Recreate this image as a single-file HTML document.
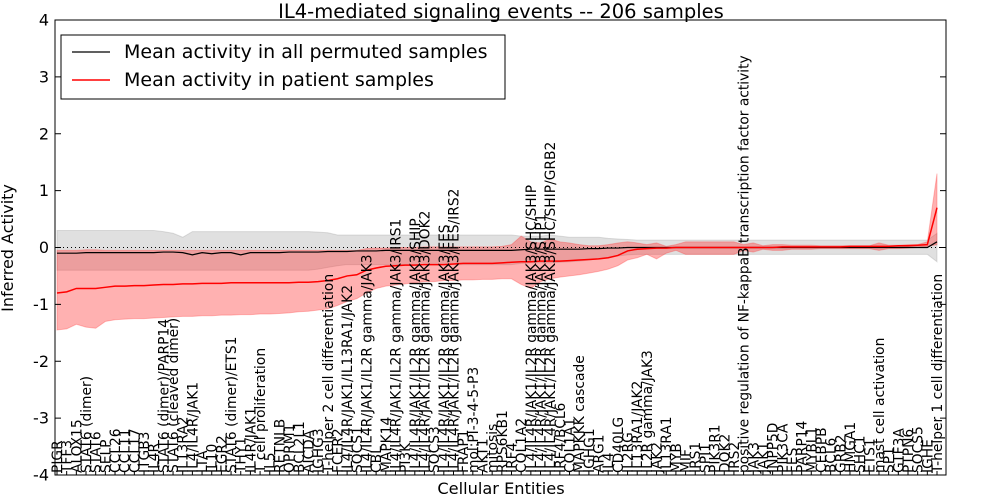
<!DOCTYPE html>
<html><head><meta charset="utf-8"><style>
html,body{margin:0;padding:0;background:#fff}
svg{display:block;font-family:"DejaVu Sans","Liberation Sans",sans-serif}
</style></head><body>
<svg id="chart" width="1000" height="500" viewBox="0 0 1000 500" xmlns="http://www.w3.org/2000/svg">
<text x="501" y="18" text-anchor="middle" font-size="19.5">IL4-mediated signaling events -- 206 samples</text>
<text transform="translate(13,248) rotate(-90)" text-anchor="middle" font-size="16">Inferred Activity</text>
<text x="501" y="494" text-anchor="middle" font-size="16.2">Cellular Entities</text>
<g id="plot"></g>
</svg>
<script>
const categories=["PIGR","TFF3","ALOX15","STAT6 (dimer)","STAT6","SELP","CCL26","CCL11","CCL17","ITGB3","IL4R","STAT6 (dimer)/PARP14","STAT6 (cleaved dimer)","IL13RA2","IL4/IL4R/JAK1","LTA","IL10","EGR2","STAT6 (dimer)/ETS1","THY1","IL4R/JAK1","T cell proliferation","IL5","RETNLB","OPRM1","BCL2L1","AICDA","IGHG3","T-helper 2 cell differentiation","FCER2","IL4/IL4R/JAK1/IL13RA1/JAK2","SOCS1","IL4/IL4R/JAK1/IL2R gamma/JAK3","CBL","MAPK14","IL4/IL4R/JAK1/IL2R gamma/JAK3/IRS1","PI3K","IL4/IL4R/JAK1/IL2R gamma/JAK3/SHIP","IL4/IL4R/JAK1/IL2R gamma/JAK3/DOK2","SOCS3","IL4/IL4R/JAK1/IL2R gamma/JAK3/FES","IL4/IL4R/JAK1/IL2R gamma/JAK3/FES/IRS2","FRAP1","mol:PI-3-4-5-P3","AKT1","mitosis","RPS6KB1","IRF4","COL1A2","IL4/IL4R/JAK1/IL2R gamma/JAK3/SHC/SHIP","IL4/IL4R/JAK1/IL2R gamma/JAK3/SHP1","IL4/IL4R/JAK1/IL2R gamma/JAK3/SHC/SHIP/GRB2","IRF4/BCL6","COL1A1","MAPKKK cascade","IGHG1","ARG1","IL4","CD40LG","IL2RG","IL13RA1/JAK2","IL2R gamma/JAK3","JAK2","IL13RA1","MYB","MIF","IRS1","SPI1","PIK3R1","DOK2","IRS2","positive regulation of NF-kappaB transcription factor activity","JAK3","JAK1","INPP5D","PIK3CA","FES","PARP14","MYBL1","CEBPB","BCL6","GRB2","HMGA1","SHC1","ETS1","mast cell activation","SP1","GTF3A","PTPN6","SOCS5","IGHE","T-helper 1 cell differentiation"];
const patientMean=[-0.80,-0.78,-0.72,-0.72,-0.72,-0.70,-0.68,-0.68,-0.67,-0.67,
-0.66,-0.65,-0.65,-0.64,-0.64,-0.63,-0.63,-0.63,-0.62,-0.62,
-0.62,-0.62,-0.62,-0.62,-0.62,-0.61,-0.61,-0.60,-0.58,-0.55,
-0.50,-0.48,-0.40,-0.36,-0.33,-0.32,-0.31,-0.31,-0.30,-0.30,
-0.30,-0.29,-0.28,-0.28,-0.28,-0.28,-0.27,-0.26,-0.25,-0.25,
-0.24,-0.24,-0.24,-0.23,-0.22,-0.21,-0.20,-0.18,-0.14,-0.06,
-0.03,-0.02,-0.01,-0.01,0,0,0,0,0,0,
0,0,0,0,0,0.01,0.01,0.01,0.01,0.01,
0.01,0.01,0.02,0.02,0.02,0.02,0.02,0.03,0.03,0.04,
0.05,0.70];
const patientLow=[-1.45,-1.43,-1.35,-1.40,-1.42,-1.30,-1.27,-1.26,-1.25,-1.25,
-1.24,-1.23,-1.22,-1.21,-1.21,-1.20,-1.20,-1.19,-1.19,-1.18,
-1.18,-1.17,-1.17,-1.16,-1.15,-1.13,-1.12,-1.10,-1.08,-1.02,
-0.95,-0.90,-0.80,-0.72,-0.68,-0.66,-0.64,-0.62,-0.60,-0.60,
-0.58,-0.58,-0.57,-0.57,-0.56,-0.56,-0.55,-0.55,-0.65,-0.72,
-0.60,-0.55,-0.52,-0.50,-0.48,-0.45,-0.42,-0.38,-0.32,-0.22,
-0.18,-0.12,-0.20,-0.10,-0.05,-0.12,-0.12,-0.12,-0.12,-0.12,
-0.12,-0.05,-0.08,-0.03,-0.05,-0.05,-0.03,-0.03,-0.03,-0.02,
-0.02,-0.02,-0.02,-0.02,-0.02,-0.05,-0.02,-0.02,-0.01,0,
0.02,0.05];
const patientHigh=[-0.05,-0.05,-0.05,-0.04,-0.04,-0.05,-0.05,-0.05,-0.05,-0.05,
-0.05,-0.05,-0.05,-0.05,-0.05,-0.05,-0.05,-0.05,-0.05,-0.05,
-0.05,-0.05,-0.05,-0.05,-0.05,-0.05,-0.05,-0.05,-0.05,-0.05,
-0.05,-0.05,-0.02,-0.01,-0.01,0,0,0,0.01,0.01,
0.01,0.01,0.01,0.01,0.01,0.01,0.02,0.05,0.20,0.10,
0.08,0.15,0.10,0.08,0.05,0.03,0.03,0.05,0.08,0.10,
0.08,0.05,0.08,0.02,0.05,0.10,0.10,0.10,0.10,0.10,
0.10,0.05,0.08,0.03,0.05,0.05,0.04,0.04,0.04,0.03,
0.03,0.03,0.03,0.03,0.03,0.08,0.04,0.04,0.05,0.05,
0.10,1.30];
const permMean=[-0.10,-0.10,-0.10,-0.09,-0.09,-0.09,-0.09,-0.09,-0.09,-0.09,
-0.09,-0.08,-0.08,-0.09,-0.13,-0.09,-0.11,-0.09,-0.09,-0.13,
-0.09,-0.09,-0.09,-0.09,-0.08,-0.08,-0.08,-0.08,-0.07,-0.07,
-0.07,-0.06,-0.06,-0.06,-0.05,-0.05,-0.05,-0.05,-0.05,-0.05,
-0.05,-0.05,-0.05,-0.05,-0.05,-0.05,-0.05,-0.05,-0.04,-0.03,
-0.03,-0.03,-0.03,-0.03,-0.03,-0.02,-0.02,-0.01,-0.01,0,
0,0,0,0,0,0,0,0,0,0,
0,0,0,0,0,0,0,0,0,0,
0,0,0,0,0,0,0,0,0,0,
0,0.10];
const permHigh=[0.30,0.30,0.30,0.30,0.30,0.30,0.30,0.30,0.30,0.30,
0.30,0.28,0.25,0.18,0.28,0.28,0.28,0.28,0.28,0.28,
0.28,0.28,0.28,0.28,0.28,0.28,0.28,0.27,0.26,0.22,
0.22,0.22,0.22,0.22,0.22,0.22,0.22,0.22,0.22,0.22,
0.22,0.22,0.22,0.22,0.22,0.22,0.22,0.22,0.20,0.20,
0.20,0.22,0.20,0.18,0.18,0.18,0.18,0.16,0.15,0.14,
0.13,0.13,0.13,0.13,0.13,0.13,0.13,0.13,0.13,0.13,
0.13,0.13,0.13,0.13,0.13,0.13,0.13,0.13,0.13,0.13,
0.13,0.13,0.13,0.13,0.13,0.13,0.13,0.13,0.13,0.13,
0.13,0.25];
const permLow=[-0.40,-0.40,-0.40,-0.40,-0.40,-0.40,-0.40,-0.40,-0.40,-0.40,
-0.40,-0.40,-0.40,-0.40,-0.40,-0.40,-0.40,-0.40,-0.40,-0.40,
-0.40,-0.40,-0.40,-0.40,-0.40,-0.40,-0.40,-0.38,-0.35,-0.32,
-0.30,-0.30,-0.30,-0.30,-0.30,-0.30,-0.30,-0.30,-0.30,-0.30,
-0.30,-0.30,-0.30,-0.30,-0.30,-0.30,-0.30,-0.30,-0.28,-0.27,
-0.27,-0.27,-0.26,-0.25,-0.24,-0.22,-0.20,-0.18,-0.15,-0.13,
-0.12,-0.12,-0.12,-0.12,-0.12,-0.12,-0.12,-0.12,-0.12,-0.12,
-0.12,-0.12,-0.12,-0.12,-0.12,-0.12,-0.12,-0.12,-0.12,-0.12,
-0.12,-0.12,-0.12,-0.12,-0.12,-0.12,-0.12,-0.12,-0.12,-0.12,
-0.12,-0.25];
const yTicks=[-4,-3,-2,-1,0,1,2,3,4];

const NS="http://www.w3.org/2000/svg";
const L=55,R=946,T=20,B=475;
const yMin=-4,yMax=4;
function ys(v){return B-(v-yMin)/(yMax-yMin)*(B-T);}
function xs(i){return 57+i*(937-57)/(categories.length-1);}
const g=document.getElementById('plot');
function mk(tag,attrs,parent){const e=document.createElementNS(NS,tag);for(const k in attrs)e.setAttribute(k,attrs[k]);(parent||g).appendChild(e);return e;}
function band(lo,hi){let d='';for(let i=0;i<hi.length;i++)d+=(i?'L':'M')+xs(i)+','+ys(hi[i]);for(let i=lo.length-1;i>=0;i--)d+='L'+xs(i)+','+ys(lo[i]);return d+'Z';}
function line(v){let d='';for(let i=0;i<v.length;i++)d+=(i?'L':'M')+xs(i)+','+ys(v[i]);return d;}

const pb=mk('path',{d:band(permLow,permHigh),fill:'#bbbbbb','fill-opacity':'0.45',stroke:'#999','stroke-opacity':'0.3'});


const rb=mk('path',{d:band(patientLow,patientHigh),fill:'#ff3333','fill-opacity':'0.38',stroke:'#ff3333','stroke-opacity':'0.3'});


const zl=mk('line',{x1:L,x2:R,y1:ys(0),y2:ys(0),stroke:'#000','stroke-dasharray':'1,3','stroke-width':1});


const pl=mk('path',{d:line(permMean),fill:'none',stroke:'#000','stroke-width':1.2});


const rl=mk('path',{d:line(patientMean),fill:'none',stroke:'#ff0000','stroke-width':1.5});



const fr=mk('rect',{x:L,y:T,width:R-L,height:B-T,fill:'none',stroke:'#000','stroke-width':1});



yTicks.forEach(t=>{
  const y=ys(t);
  const a=mk('line',{x1:L,x2:L+6,y1:y,y2:y,stroke:'#000'});
  
  
  const b=mk('line',{x1:R-6,x2:R,y1:y,y2:y,stroke:'#000'});
  
  
  const tx=mk('text',{x:L-6,y:y+5.5,'text-anchor':'end','font-size':16});
  tx.textContent=String(t);
  
  
});
categories.forEach((c,i)=>{
  const x=xs(i);
  const tk=mk('line',{x1:x,x2:x,y1:B,y2:B-4,stroke:'#000'});
  
  
  const tx=mk('text',{transform:'translate('+(x+5)+','+(B-2)+') rotate(-90)','font-size':13.8});
  tx.textContent=c;
  
  
});

const lg=mk('g',{});


mk('rect',{x:61,y:35,width:444,height:64,fill:'#fff',stroke:'#000'},lg);
mk('line',{x1:72,x2:110,y1:52,y2:52,stroke:'#000','stroke-width':1.2},lg);
const t1=mk('text',{x:124,y:58,'font-size':19},lg);
t1.textContent='Mean activity in all permuted samples';


mk('line',{x1:72,x2:110,y1:80,y2:80,stroke:'#ff0000','stroke-width':1.5},lg);
const t2=mk('text',{x:124,y:86,'font-size':19},lg);
t2.textContent='Mean activity in patient samples';


</script>
</body></html>
